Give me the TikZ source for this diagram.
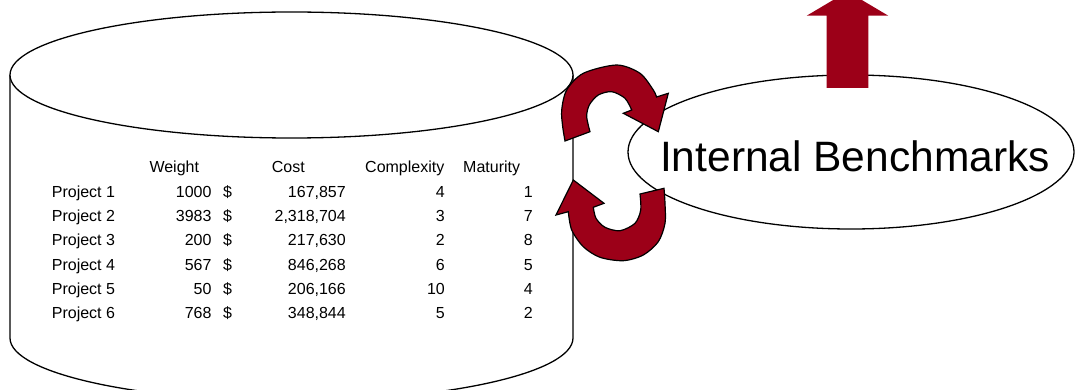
\documentclass[tikz,border=0pt]{standalone}
\usepackage{fontspec}
\setmainfont{Liberation Sans}
\usetikzlibrary{shapes.geometric}
\definecolor{arrowred}{HTML}{9C0018}
\begin{document}
\begin{tikzpicture}[x=1pt,y=-1pt,
  outline/.style={draw=black,line width=1.3pt},
  blockarrow/.style={fill=arrowred,draw=black,line width=1.2pt,line join=miter},
  cell/.style={inner sep=0pt,font=\fontsize{16}{19}\selectfont}]
\useasboundingbox (0,0) rectangle (1076,390);
\clip (0,0) rectangle (1076,390);

% database cylinder: body, then lid
\path[outline,fill=white] (10,75) -- (10,338)
  arc[start angle=180,end angle=0,x radius=281.5,y radius=63] -- (573,75);
\draw[outline,fill=white] (291.5,75) ellipse [x radius=281.5,y radius=63];

% table header
\node[cell,anchor=base west] (hweight) at (149.3,172.7) {Weight};
\node[cell,anchor=base west] (hcost)   at (271.7,172.7) {Cost};
\node[cell,anchor=base west] (hcplx)   at (365,172.7)   {Complexity};
\node[cell,anchor=base west] (hmat)    at (463,172.7)   {Maturity};

% table rows
\foreach \pn/\wt/\cs/\cx/\mt [count=\i] in {
  1/1000/167{,}857/4/1,
  2/3983/2{,}318{,}704/3/7,
  3/200/217{,}630/2/8,
  4/567/846{,}268/6/5,
  5/50/206{,}166/10/4,
  6/768/348{,}844/5/2}{
  \pgfmathsetmacro\yb{172.7+24.33*\i}
  \node[cell,anchor=base west] (name\i)   at (51.7,\yb)  {Project \pn};
  \node[cell,anchor=base east] (weight\i) at (211.7,\yb) {\wt};
  \node[cell,anchor=base west] (dollar\i) at (223,\yb)   {\$};
  \node[cell,anchor=base east] (cost\i)   at (346,\yb)   {\cs};
  \node[cell,anchor=base east] (cplx\i)   at (445,\yb)   {\cx};
  \node[cell,anchor=base east] (mat\i)    at (533,\yb)   {\mt};
}

% benchmark ellipse
\node[ellipse,draw=black,line width=1.3pt,fill=white,inner sep=0pt,
      minimum width=446pt,minimum height=154pt] (bench) at (851,152) {};
\node[anchor=base,inner sep=0pt,font=\fontsize{42.5}{50}\selectfont]
  (benchlabel) at (855,172) {Internal Benchmarks};

% upward block arrow
\fill[arrowred] (826.7,88) -- (826.7,15.7) -- (806.7,15.7) -- (847.5,-8.5)
  -- (888.3,15.7) -- (868.3,15.7) -- (868.3,88) -- cycle;

% upper curved arrow
\path[blockarrow] (565,141)
  -- plot[smooth] coordinates {(565,141) (562.7,126.7) (561.7,110) (566.7,90)
     (583.3,73.3) (616.7,65) (640,73.3) (653.3,90) (656.5,97)}
  -- (668.3,93.3) -- (658.3,131.7) -- (623.3,113.3) -- (631.7,110)
  -- plot[smooth] coordinates {(631.7,110) (625,98.3) (611.7,91.7) (598.3,95)
     (589.3,105) (586.7,116.7) (590,131.7)}
  -- cycle;

% lower curved arrow
\path[blockarrow] (573.3,180) -- (604,203.3) -- (593.3,207.3)
  -- plot[smooth] coordinates {(593.3,207.3) (596,218.3) (605,227.3) (620,230.7)
     (635,223.3) (640.7,210) (640,194)}
  -- (664,188.3)
  -- plot[smooth] coordinates {(664,188.3) (665,203.3) (665,223.3) (658.3,241.7)
     (643.3,255) (623.3,260.7) (600,257.3) (583.3,246.7) (571.7,230) (568.3,211.7)}
  -- (556,215) -- cycle;
\end{tikzpicture}
\end{document}
